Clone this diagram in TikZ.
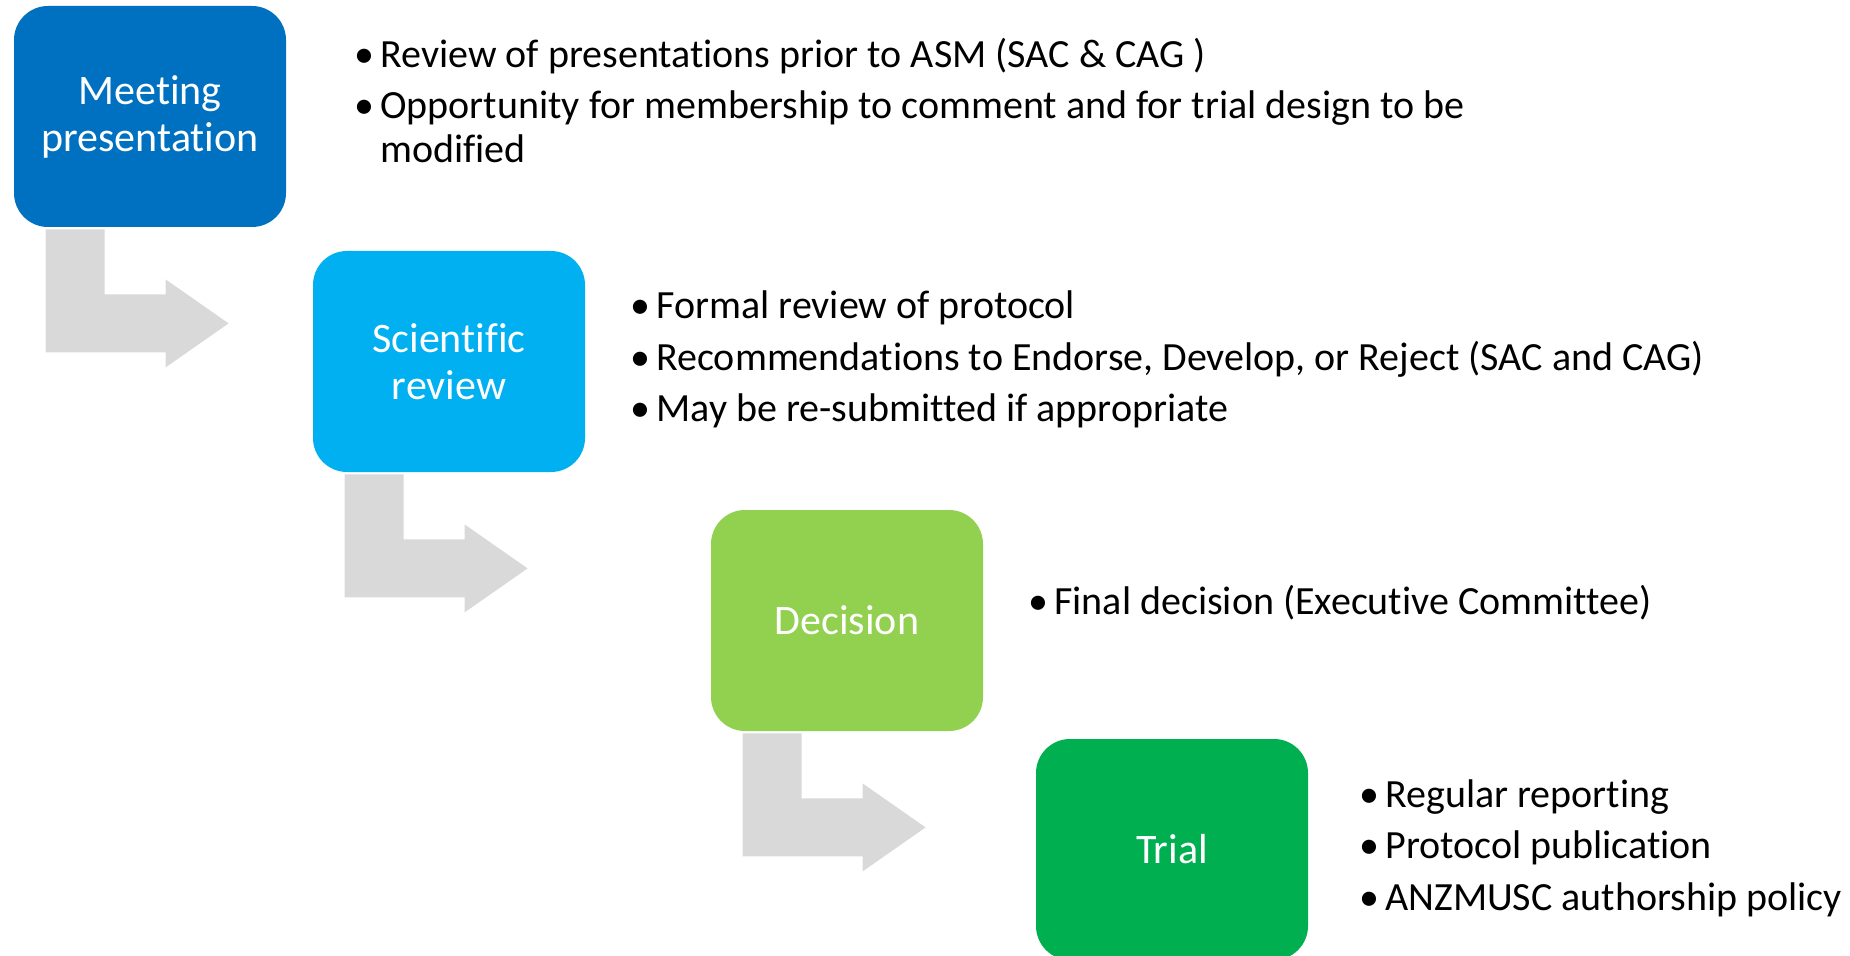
\documentclass[tikz,border=0pt]{standalone}
\usepackage{fontspec}
\setmainfont{Carlito}[Ligatures=NoCommon]

\definecolor{meetblue}{HTML}{0070C0}
\definecolor{sciblue}{HTML}{00B0F0}
\definecolor{decgreen}{HTML}{92D050}
\definecolor{trialgreen}{HTML}{00B050}
\definecolor{arrowgrey}{HTML}{D9D9D9}

\tikzset{
  stagebox/.style={rounded corners=17pt, minimum width=136pt, minimum height=110.5pt,
    inner sep=0pt, text=white, align=center, font=\fontsize{21}{23.5}\selectfont},
  bendarrow/.style={fill=arrowgrey},
  notes/.style={anchor=base west, inner sep=0pt, align=left, font=\fontsize{20}{22}\selectfont}
}
\newcommand{\bul}{\makebox[13pt][l]{•}}

\begin{document}
\begin{tikzpicture}[x=0.5pt,y=-0.5pt]
\useasboundingbox (0,0) rectangle (1850,956);
\clip (0,0) rectangle (1850,956);

\node [stagebox,fill=meetblue] (meet) at (150,116.5) {Meeting\\presentation};
\node [stagebox,fill=sciblue] (sci) at (449,361.5) {Scientific\\review};
\node [stagebox,fill=decgreen] (dec) at (847,620.5) {Decision};
\node [stagebox,fill=trialgreen] (trial) at (1172,849.5) {Trial};

\foreach \b in {meet,sci,dec}
  \fill [bendarrow]([shift={(32,2)}]\b.south west) -- ++(59,0) -- ++(0,65) -- ++(61,0)
    -- ++(0,-15) -- ++(63,44) -- ++(-63,44) -- ++(0,-15) -- ++(-120,0) -- cycle;

\node [notes] (meetnotes) at (354,163) {\bul Review of presentations prior to ASM (SAC \& CAG )\\[3.75pt]
  \bul Opportunity for membership to comment and for trial design to be\\
  \hspace*{13pt}modified};
\node [notes] (scinotes) at (630,422) {\bul Formal review of protocol\\[3.75pt]
  \bul Recommendations to Endorse, Develop, or Reject (SAC and CAG)\\[3.75pt]
  \bul May be re-submitted if appropriate};
\node [notes] (decnotes) at (1028,614) {\bul Final decision (Executive Committee)};
\node [notes] (trialnotes) at (1359,910) {\bul Regular reporting\\[3.75pt]
  \bul Protocol publication\\[3.75pt]
  \bul ANZMUSC authorship policy};

\end{tikzpicture}
\end{document}
